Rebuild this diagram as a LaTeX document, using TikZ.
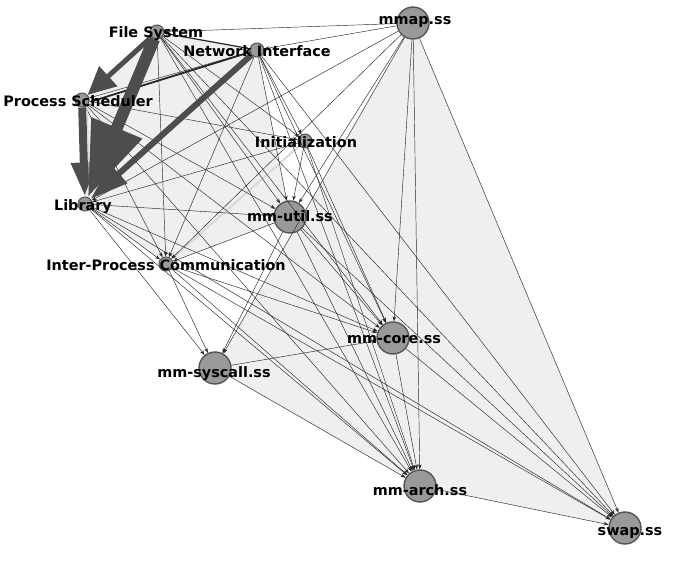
\documentclass[tikz,border=0pt]{standalone}
\usepackage{fontspec}
\setmainfont{DejaVu Sans}
\usepackage{tikz}
\usetikzlibrary{arrows.meta}
\pgfdeclarelayer{background}
\pgfsetlayers{background,main}
\definecolor{hullgray}{HTML}{EFEFEF}
\definecolor{nodegray}{HTML}{999999}
\definecolor{rimgray}{HTML}{555555}
\definecolor{heavygray}{HTML}{4D4D4D}

\begin{document}
\begin{tikzpicture}[
    x=1pt, y=-1pt,
    sub/.style={circle, draw=rimgray, line width=1.4pt, fill=nodegray, inner sep=0pt},
    small/.style={sub, minimum size=14pt, line width=1pt},
    big/.style={sub, minimum size=32pt},
    lbl/.style={font=\bfseries\fontsize{14.4}{16}\selectfont, inner sep=0pt},
    dep/.style={-{Stealth[length=5pt, width=3.5pt]}, draw=black!85, line width=0.45pt},
    faint/.style={draw=white!85!black, line width=2pt},
    heavy/.style={draw=heavygray, line width=#1},
]
\useasboundingbox (0,0) rectangle (673,567);

% subsystems
\node[small] (fs) at (157,32) {};
\node[small] (ni) at (257,50) {};
\node[small] (ps) at (82,100) {};
\node[small] (init) at (305,141) {};
\node[small] (lib) at (85,204) {};
\node[small] (ipc) at (166,264) {};
\node[big] (util) at (290,217) {};
\node[big] (mmap) at (413,23) {};
\node[big] (core) at (393,338) {};
\node[big] (sysc) at (215,368) {};
\node[big] (arch) at (420,486) {};
\node[big] (swap) at (625,528) {};

% shaded hull
\begin{pgfonlayer}{background}
\fill[hullgray] (mmap.center) -- (swap.center) -- (arch.center) -- (sysc.center) -- cycle;
\fill[hullgray] (fs.center) -- (ni.center) -- (util.center) -- (ipc.center) -- (lib.center) -- (ps.center) -- cycle;
\end{pgfonlayer}

% light dependencies
\draw[faint] (init) -- (ipc);

% ordinary dependencies
\foreach \s/\t in {fs/ipc, fs/init, fs/util, fs/core, fs/arch, fs/swap,
    ni/ipc, ni/init, ni/util, ni/core, ni/arch, ni/swap, ni/ps,
    ps/init, ps/util, ps/ipc, ps/core, ps/arch,
    init/lib, init/util, init/core, init/arch,
    lib/ipc, lib/util, lib/core, lib/arch, lib/swap, lib/sysc,
    util/ipc, util/core, util/arch, util/swap, util/sysc,
    ipc/core, ipc/arch, ipc/swap, ipc/sysc,
    sysc/core, sysc/arch, core/arch, core/swap, arch/swap,
    mmap/fs, mmap/ni, mmap/lib, mmap/ipc, mmap/util, mmap/sysc,
    mmap/core, mmap/arch, mmap/swap}
  \draw[dep] (\s) -- (\t);

\draw[dep, line width=1.2pt] (fs) -- (ni);
\draw[dep, line width=1.8pt] (ni) -- ([yshift=-2pt]ps.east);

% heavy dependencies
\draw[heavy=8pt, -{Triangle[length=34pt, width=24pt]}] (ps) -- (lib);
\draw[faint, line width=1pt] ([xshift=5pt]ps.south) -- ([xshift=5pt]lib.north);
\draw[heavy=12pt, -{Triangle[length=75pt, width=52pt]}] (fs) -- (lib);
\draw[heavy=6pt, -{Triangle[length=38pt, width=24pt]}] (ni) -- (lib);
\draw[heavy=5pt, -{Triangle[length=28pt, width=26pt]}] (fs) -- (ps);

% labels
\node[lbl] (fs-t) at (156,34) {File System};
\node[lbl] (ni-t) at (257,51) {Network Interface};
\node[lbl] (ps-t) at (78,101) {Process Scheduler};
\node[lbl] (init-t) at (306,142) {Initialization};
\node[lbl] (lib-t) at (83,207) {Library};
\node[lbl] (util-t) at (290,216) {mm-util.ss};
\node[lbl] (ipc-t) at (166,265) {Inter-Process Communication};
\node[lbl] (mmap-t) at (415,22) {mmap.ss};
\node[lbl] (core-t) at (394,340) {mm-core.ss};
\node[lbl] (sysc-t) at (214,374) {mm-syscall.ss};
\node[lbl] (arch-t) at (420,490) {mm-arch.ss};
\node[lbl] (swap-t) at (630,533) {swap.ss};
\end{tikzpicture}
\end{document}
